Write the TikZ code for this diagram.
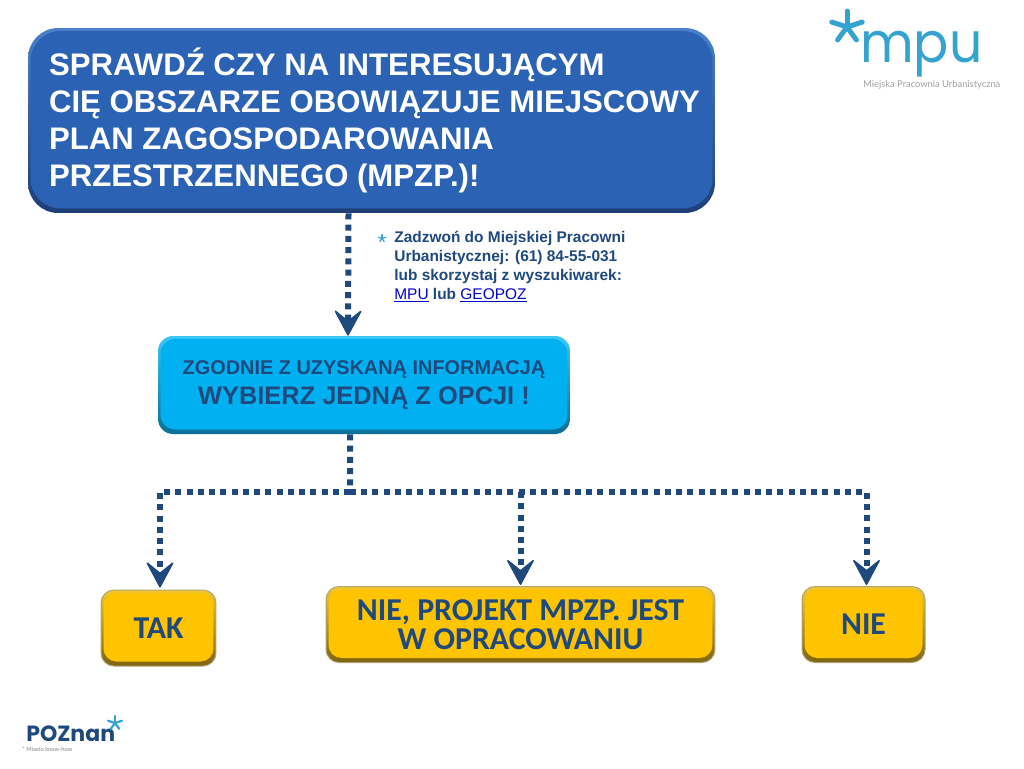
\documentclass[tikz,border=0pt]{standalone}
\usepackage{fontspec}
\setmainfont{Liberation Sans}
\newfontfamily\logofont{Poppins}
\newfontfamily\tagfont{Lato}
\newfontfamily\boxfont{Carlito}
\usetikzlibrary{arrows.meta}

\definecolor{navy}{HTML}{1F497D}
\definecolor{skyline}{HTML}{35A3CF}
\definecolor{titleblue}{HTML}{2B62B4}
\definecolor{titledark}{HTML}{1E3E78}
\definecolor{titlelight}{HTML}{4C80CC}
\definecolor{skyfill}{HTML}{00B0F0}
\definecolor{skydark}{HTML}{0A6F96}
\definecolor{skylight}{HTML}{3CC6F6}
\definecolor{goldfill}{HTML}{FFC400}
\definecolor{golddark}{HTML}{7F6410}
\definecolor{goldlight}{HTML}{F2C830}

\newdimen\pxunit
\pxunit=0.5692pt
\newcommand{\px}[2]{\fontsize{#1\pxunit}{#2\pxunit}\selectfont}

\tikzset{
    bevelbox/.style n args={4}{
        rounded corners=#4, top color=#3, bottom color=#2,
        path picture={
            \fill[#1,rounded corners=#4]
                ([xshift=0.05cm,yshift=0.09cm]path picture bounding box.south west)
                rectangle ([xshift=-0.05cm,yshift=-0.06cm]path picture bounding box.north east);
        }
    },
    titlebox/.style={bevelbox={titleblue}{titledark}{titlelight}{0.6cm}},
    infobox/.style={bevelbox={skyfill}{skydark}{skylight}{0.3cm}},
    answerbox/.style={bevelbox={goldfill}{golddark}{goldlight}{0.26cm},
        draw=golddark!60,line width=0.02cm,
        minimum height=1.52cm,text=navy,font=\boxfont\bfseries\px{31.8}{29.5}},
    dotline/.style={navy,line width=0.12cm,dash pattern=on 0.12cm off 0.105cm},
    dotarrow/.style={dotline,-{Stealth[round,inset=0.24cm,length=0.56cm,width=0.6cm,line width=0.03cm,fill=navy]}}
}

% five armed star of the logos
\newcommand{\logostar}[4]{
    \foreach \arm in {90,162,234,306,18}
        \draw[#4,line width=#3,line cap=round] (#1,#2) -- ++(\arm:#3*3.2);
}

\begin{document}
\begin{tikzpicture}[x=0.02cm,y=-0.02cm]
    \useasboundingbox (0,0) rectangle (1024,768);

    \node[titlebox,minimum width=13.74cm,minimum height=3.7cm] (title) at (371.5,120.5) {};
    \node[anchor=west,inner sep=0pt,align=left,text=white,font=\bfseries\px{31.15}{37}] (titletext) at ([xshift=0.42cm]title.west)
        {SPRAWDŹ CZY NA INTERESUJĄCYM\\CIĘ OBSZARZE OBOWIĄZUJE MIEJSCOWY\\
        PLAN ZAGOSPODAROWANIA\\PRZESTRZENNEGO (MPZP.)!};

    \node[infobox,minimum width=8.24cm,minimum height=1.96cm,align=center,text=navy,inner sep=0pt] (choose) at (364,385)
        {{\bfseries\px{19.9}{22}ZGODNIE Z UZYSKANĄ INFORMACJĄ}\\[0.14cm]
        {\bfseries\px{25.4}{28}WYBIERZ JEDNĄ Z OPCJI !}};

    \node[anchor=north west,inner sep=0pt,align=left,text=navy,font=\bfseries\px{15.45}{19}] (hint) at (394,230.5)
        {Zadzwoń do Miejskiej Pracowni\\Urbanistycznej: (61) 84-55-031\\
        lub skorzystaj z wyszukiwarek:\\
        \textcolor{blue!80!black}{\mdseries\underline{MPU}} lub \textcolor{blue!80!black}{\mdseries\underline{GEOPOZ}}};
    \logostar{382}{238.5}{0.024cm}{skyline}

    \node[answerbox,minimum width=2.3cm] (tak) at (158.5,628) {TAK};
    \node[answerbox,minimum width=7.78cm,align=center] (project) at (520.5,624.5)
        {NIE, PROJEKT MPZP. JEST\\W OPRACOWANIU};
    \node[answerbox,minimum width=2.46cm] (nie) at (863.5,624.5) {NIE};

    \draw[dotarrow] ([xshift=-0.46cm]title.south) -- ([xshift=-0.32cm]choose.north);

    \coordinate (fork) at (350,492);
    \draw[dotline] ([xshift=-0.28cm]choose.south) -- (fork);
    \draw[dotarrow] (fork) -| ([xshift=0.03cm,yshift=0.04cm]tak.north);
    \draw[dotarrow] (fork -| project.north) -- ([yshift=0.02cm]project.north);
    \draw[dotarrow] (fork) -| ([xshift=0.06cm,yshift=0.02cm]nie.north);

    % logos
    \node[anchor=base west,inner sep=0pt,text depth=0pt,xscale=0.93,text=skyline,font=\logofont\px{56}{56}] (mpu) at (860,62) {mpu};
    \logostar{847}{27}{0.1cm}{skyline}
    \node[anchor=base west,inner sep=0pt,text height=6pt,text depth=0pt,text=gray!75,font=\tagfont\px{9.35}{11}] (mpuname) at (863,87) {Miejska Pracownia Urbanistyczna};

    \node[anchor=base west,inner sep=0pt,text depth=0pt,text=navy,font=\logofont\bfseries\px{22}{22}] (poznan) at (26,741) {POZnan};
    \logostar{115}{723}{0.045cm}{skyline}
    \node[anchor=base west,inner sep=0pt,text height=3pt,text depth=0pt,text=gray,font=\tagfont\px{5.8}{7}] (motto) at (22,751) {* Miasto know-how};
\end{tikzpicture}
\end{document}
